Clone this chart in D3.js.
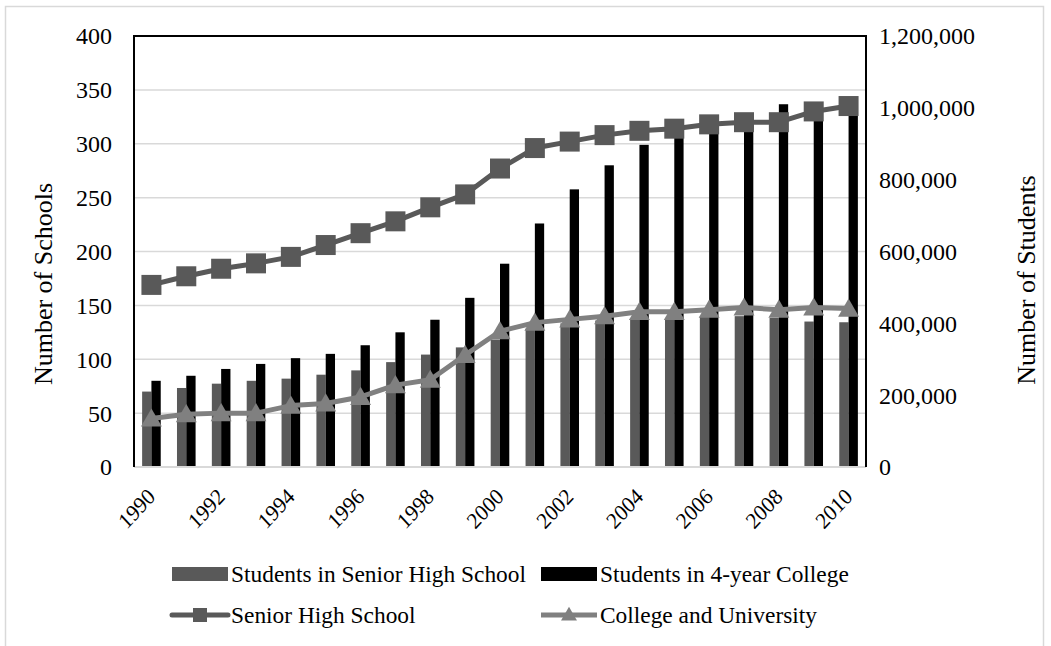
<!DOCTYPE html>
<html>
<head>
<meta charset="utf-8">
<script src="https://cdn.jsdelivr.net/npm/d3@7"></script>
<style>
  body { margin: 0; background: #fff; }
  svg text { font-family: "Liberation Serif", "Times New Roman", serif; fill: #000; }
</style>
</head>
<body>
<svg id="chart" width="1051" height="646"></svg>
<script>
// Categories
const years = [1990,1991,1992,1993,1994,1995,1996,1997,1998,1999,2000,
               2001,2002,2003,2004,2005,2006,2007,2008,2009,2010];
const yearLabels = [1990,1992,1994,1996,1998,2000,2002,2004,2006,2008,2010];

// Number of schools (left axis)
const seniorHighSchools = [169,177,184,189,195,206,217,228,241,253,277,
                           296,302,308,312,314,318,320,320,330,335];
const collegeUniversities = [45,49,50,50,57,59,65,76,81,104,126,
                             134,137,140,144,144,146,148,146,148,147];

// Number of students (right axis)
const studentsSeniorHigh = [210000,220000,232000,240000,246000,257000,269000,292000,313000,333000,355000,
                            385000,400000,408000,412000,415000,418000,420000,415000,405000,403000];
const studentsCollege = [240000,254000,273000,287000,303000,315000,339000,375000,410000,471000,566000,
                         678000,773000,840000,897000,935000,950000,965000,1010000,990000,1000000];

const leftTicks = [0,50,100,150,200,250,300,350,400];
const rightTicks = [0,200000,400000,600000,800000,1000000,1200000];

const svg = d3.select('#chart');
const plot = { left: 134, right: 866, top: 36, bottom: 467 };
const tickFont = 24, xTickFont = 21, legendFont = 23.4, titleFont = 26;

// outer chart border
svg.append('rect')
  .attr('x', 5.5).attr('y', 6.5)
  .attr('width', 1038).attr('height', 700)
  .attr('fill', 'none').attr('stroke', '#d9d9d9').attr('stroke-width', 1.5);

const x = d3.scaleBand().domain(years).range([plot.left, plot.right]);
const yL = d3.scaleLinear().domain([0,400]).range([plot.bottom, plot.top]);
const yR = d3.scaleLinear().domain([0,1200000]).range([plot.bottom, plot.top]);
const cx = d => x(d) + x.bandwidth()/2;
const barW = 9.3;

// gridlines
svg.append('g').selectAll('line')
  .data(leftTicks.filter(t => t > 0 && t < 400))
  .join('line')
  .attr('x1', plot.left).attr('x2', plot.right)
  .attr('y1', d => yL(d)).attr('y2', d => yL(d))
  .attr('stroke', '#d9d9d9').attr('stroke-width', 1.5);

// bars
const bars = svg.append('g');
bars.selectAll('.shs').data(years).join('rect')
  .attr('x', (d) => cx(d) - barW)
  .attr('y', (d,i) => yR(studentsSeniorHigh[i]))
  .attr('width', barW)
  .attr('height', (d,i) => plot.bottom - yR(studentsSeniorHigh[i]))
  .attr('fill', '#595959');
bars.selectAll('.col').data(years).join('rect')
  .attr('x', (d) => cx(d))
  .attr('y', (d,i) => yR(studentsCollege[i]))
  .attr('width', barW)
  .attr('height', (d,i) => plot.bottom - yR(studentsCollege[i]))
  .attr('fill', '#000');

// axis frame
svg.append('line')
  .attr('x1', plot.left).attr('x2', plot.right)
  .attr('y1', plot.bottom).attr('y2', plot.bottom)
  .attr('stroke', '#d9d9d9').attr('stroke-width', 2);
svg.append('path')
  .attr('d', `M${plot.left},${plot.bottom}V${plot.top}H${plot.right}V${plot.bottom}`)
  .attr('fill', 'none').attr('stroke', '#000').attr('stroke-width', 2);

// lines
const line = vals => d3.line().x((d) => cx(d)).y((d,i) => yL(vals[i]))(years);

svg.append('path').attr('d', line(collegeUniversities))
  .attr('fill', 'none').attr('stroke', '#808080').attr('stroke-width', 5)
  .attr('stroke-linejoin', 'round');
svg.append('path').attr('d', line(seniorHighSchools))
  .attr('fill', 'none').attr('stroke', '#595959').attr('stroke-width', 5)
  .attr('stroke-linejoin', 'round');

const tri = d3.symbol().type(d3.symbolTriangle).size(190);
svg.append('g').selectAll('path').data(years).join('path')
  .attr('d', tri)
  .attr('transform', (d,i) => `translate(${cx(d)},${yL(collegeUniversities[i]) + 2})`)
  .attr('fill', '#808080');

svg.append('g').selectAll('rect').data(years).join('rect')
  .attr('x', d => cx(d) - 10)
  .attr('y', (d,i) => yL(seniorHighSchools[i]) - 10)
  .attr('width', 20).attr('height', 20)
  .attr('fill', '#595959');

// left axis labels
svg.append('g').selectAll('text').data(leftTicks).join('text')
  .attr('x', 112).attr('y', d => yL(d))
  .attr('dy', '0.35em')
  .attr('text-anchor', 'end')
  .attr('font-size', tickFont)
  .text(d => d);

// right axis labels
svg.append('g').selectAll('text').data(rightTicks).join('text')
  .attr('x', 879).attr('y', d => yR(d))
  .attr('dy', '0.35em')
  .attr('font-size', tickFont)
  .text(d => d3.format(',')(d));

// x labels
svg.append('g').selectAll('text').data(yearLabels).join('text')
  .attr('transform', d => `translate(${cx(d) + 5},${plot.bottom + 31}) scale(1,1.08) rotate(-45)`)
  .attr('text-anchor', 'end')
  .attr('font-size', xTickFont)
  .text(d => d);

// axis titles
svg.append('text')
  .attr('transform', 'translate(52,284) rotate(-90)')
  .attr('text-anchor', 'middle')
  .attr('font-size', titleFont)
  .text('Number of Schools');
svg.append('text')
  .attr('transform', 'translate(1035,280) rotate(-90)')
  .attr('text-anchor', 'middle')
  .attr('font-size', titleFont)
  .text('Number of Students');

// legend
const legend = svg.append('g');
const row1 = 574, row2 = 615;
legend.append('rect').attr('x', 172).attr('y', row1 - 7).attr('width', 56).attr('height', 14).attr('fill', '#595959');
legend.append('text').attr('x', 231).attr('y', row1).attr('dy', '0.35em').attr('font-size', legendFont).text('Students in Senior High School');
legend.append('rect').attr('x', 541).attr('y', row1 - 7).attr('width', 56).attr('height', 14).attr('fill', '#000');
legend.append('text').attr('x', 600).attr('y', row1).attr('dy', '0.35em').attr('font-size', legendFont).text('Students in 4-year College');

legend.append('line').attr('x1', 172).attr('x2', 228).attr('y1', row2).attr('y2', row2)
  .attr('stroke', '#595959').attr('stroke-width', 5).attr('stroke-linecap', 'round');
legend.append('rect').attr('x', 193).attr('y', row2 - 7).attr('width', 14).attr('height', 14).attr('fill', '#595959');
legend.append('text').attr('x', 231).attr('y', row2).attr('dy', '0.35em').attr('font-size', legendFont).text('Senior High School');

legend.append('line').attr('x1', 541).attr('x2', 597).attr('y1', row2).attr('y2', row2)
  .attr('stroke', '#808080').attr('stroke-width', 5);
legend.append('path').attr('d', d3.symbol().type(d3.symbolTriangle).size(110))
  .attr('transform', `translate(569,${row2 + 1})`).attr('fill', '#808080');
legend.append('text').attr('x', 600).attr('y', row2).attr('dy', '0.35em').attr('font-size', legendFont).text('College and University');
</script>
</body>
</html>
